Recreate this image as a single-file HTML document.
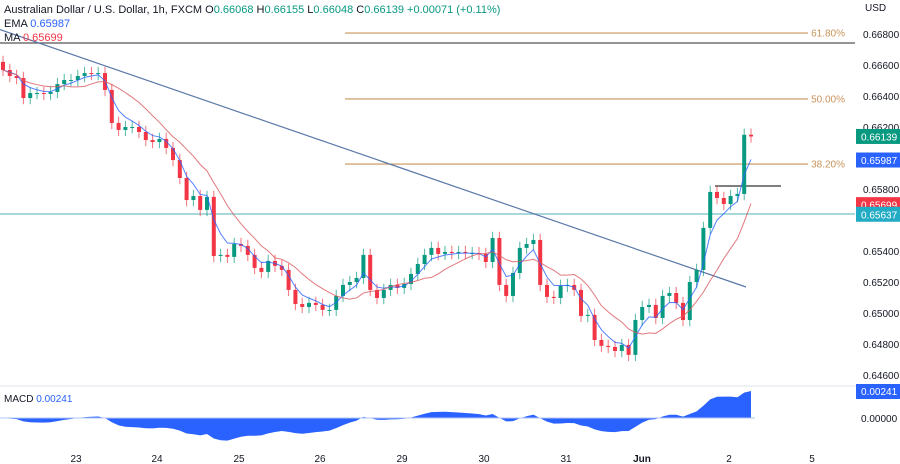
<!DOCTYPE html>
<html><head><meta charset="utf-8">
<style>
body{margin:0;background:#fff;width:900px;height:464px;overflow:hidden;font-family:"Liberation Sans",sans-serif;}
svg{display:block}
</style></head>
<body>
<svg id="chart" width="900" height="464" xmlns="http://www.w3.org/2000/svg">
  <g id="fib"></g>
  <line x1="0" y1="43" x2="855" y2="43" stroke="#555" stroke-width="1.2"/>
  <line x1="0" y1="214" x2="855" y2="214" stroke="#8ccbd0" stroke-width="1.5"/>
  <line x1="715" y1="186" x2="781" y2="186" stroke="#333" stroke-width="1.2"/>
  <line x1="0" y1="29.6" x2="746" y2="287" stroke="#5a78a8" stroke-width="1.2"/>
  <g id="candles"></g>
  <g id="ma"></g>
  <g id="axis"></g>
  <g id="macd"></g>
  <g id="xaxis"></g>
  <g font-size="11">
    <text x="4" y="13" fill="#131722">Australian Dollar / U.S. Dollar, 1h, FXCM <tspan fill="#131722">O</tspan><tspan fill="#089981">0.66068</tspan> <tspan fill="#131722">H</tspan><tspan fill="#089981">0.66155</tspan> <tspan fill="#131722">L</tspan><tspan fill="#089981">0.66048</tspan> <tspan fill="#131722">C</tspan><tspan fill="#089981">0.66139</tspan> <tspan fill="#089981">+0.00071 (+0.11%)</tspan></text>
    <text x="4" y="27" fill="#131722">EMA <tspan fill="#2962ff">0.65987</tspan></text>
    <text x="4" y="41" fill="#131722">MA <tspan fill="#f23645">0.65699</tspan></text>
  </g>
  <text x="865" y="11" font-size="10" fill="#131722">USD</text>
</svg>
<script>
const closes=[0.66568,0.66529,0.66516,0.66387,0.66419,0.66419,0.66413,0.66426,0.66477,0.66503,
0.66503,0.66529,0.66548,0.66542,0.66548,0.66439,0.66226,0.66181,0.66200,0.66200,
0.66168,0.66116,0.66103,0.66123,0.66065,0.65987,0.65871,0.65729,0.65755,0.65665,
0.65749,0.65368,0.65375,0.65362,0.65445,0.65433,0.65375,0.65291,0.65265,0.65336,
0.65304,0.65278,0.65149,0.65058,0.65039,0.65065,0.65052,0.65020,0.65020,0.65110,
0.65181,0.65200,0.65226,0.65375,0.65149,0.65097,0.65149,0.65181,0.65162,0.65187,
0.65252,0.65316,0.65375,0.65420,0.65381,0.65394,0.65387,0.65394,0.65387,0.65387,
0.65381,0.65329,0.65484,0.65181,0.65110,0.65258,0.65420,0.65445,0.65471,0.65181,
0.65104,0.65097,0.65175,0.65181,0.65149,0.64981,0.64988,0.64826,0.64788,0.64781,
0.64755,0.64794,0.64730,0.64955,0.65039,0.65052,0.64968,0.65110,0.65129,0.65065,
0.64955,0.65200,0.65278,0.65549,0.65781,0.65742,0.65703,0.65755,0.65768,0.66150,
0.66139];
const opens=[0.66620];
const fibLevels=[0.66806,0.66381,0.65961];
const fibLabels=["61.80%","50.00%","38.20%"];
const axisTicks=[0.668,0.666,0.664,0.662,0.658,0.654,0.652,0.650,0.648,0.646];
const dateLabels=["23","24","25","26","29","30","31","Jun","2","5"];
const datePos=[76,157,239,320,402,484,566,642,729,812];
const tags=[["0.66139",0.66139,"#089981"],["0.65987",0.65987,"#2962ff"],["0.65699",0.65699,"#f23645"],["0.65637",0.65637,"#22abc4"]];

const NS="http://www.w3.org/2000/svg";
function el(tag,attrs,parent){const e=document.createElementNS(NS,tag);for(const k in attrs)e.setAttribute(k,attrs[k]);parent.appendChild(e);return e;}
const y=p=>34+(0.668-p)*15500;
const x=i=>3+i*6.8;
for(let i=1;i<closes.length;i++)opens.push(closes[i-1]);

const fib=document.getElementById('fib');
fibLevels.forEach((p,i)=>{
  const l=el('line',{x1:345,x2:808,y1:y(p),y2:y(p),stroke:'#c8935a','stroke-width':1.1},fib);
  
  
  const t=el('text',{x:845,y:y(p)+3.5,'text-anchor':'end','font-size':10,fill:'#c8935a'},fib);
  t.textContent=fibLabels[i];
  
  
});

const cg=document.getElementById('candles');
closes.forEach((c,i)=>{
  const o=opens[i];const up=c>=o;const col=up?'#089981':'#f23645';
  const hi=Math.max(o,c)+0.0004, lo=Math.min(o,c)-0.0004;
  const w=el('line',{x1:x(i),x2:x(i),y1:y(hi),y2:y(lo),stroke:col,'stroke-width':1,opacity:0.7},cg);
  
  
  const top=y(Math.max(o,c)),h=Math.max(1,Math.abs(y(o)-y(c)));
  const b=el('rect',{x:x(i)-2,y:top,width:4,height:h,fill:col},cg);
  
  
});

const ema=[];const k=2/(4+1);
closes.forEach((c,i)=>ema.push(i?c*k+ema[i-1]*(1-k):c));
const sma=closes.map((c,i)=>{const s=closes.slice(Math.max(0,i-9),i+1);return s.reduce((a,b)=>a+b,0)/s.length;});
const mg=document.getElementById('ma');
const e1=el('polyline',{points:ema.map((v,i)=>x(i)+','+y(v)).join(' '),fill:'none',stroke:'#2962ff','stroke-width':1,opacity:0.8},mg);


const e2=el('polyline',{points:sma.map((v,i)=>x(i)+','+y(v)).join(' '),fill:'none',stroke:'#d9575c','stroke-width':1,opacity:0.8},mg);



const ag=document.getElementById('axis');
axisTicks.forEach(p=>{
  const t=el('text',{x:863,y:y(p)+4,'font-size':10,fill:'#131722'},ag);
  t.textContent=p.toFixed(5);
  
  
});
tags.forEach(tg=>{
  const r=el('rect',{x:856,y:y(tg[1])-7.5,width:44,height:15,fill:tg[2]},ag);
  
  
  const t=el('text',{x:861,y:y(tg[1])+4,'font-size':10,fill:'#fff'},ag);
  t.textContent=tg[0];
  
  
});

const mc=document.getElementById('macd');
const sep=el('line',{x1:0,x2:900,y1:386,y2:386,stroke:'#e0e3eb','stroke-width':1},mc);


const ef=[],es=[];const kf=2/7,ks=2/14;
closes.forEach((c,i)=>{ef.push(i?c*kf+ef[i-1]*(1-kf):c);es.push(i?c*ks+es[i-1]*(1-ks):c);});
const macd=ef.map((v,i)=>v-es[i]);
const last=macd[macd.length-1];
const sc=27/last;const ym=v=>418-v*sc;
let pts='0,418 '+macd.map((v,i)=>x(i)+','+ym(v)).join(' ')+' '+x(macd.length-1)+',418';
const ar=el('polygon',{points:pts,fill:'#2962ff'},mc);


const zl=el('line',{x1:0,x2:755,y1:418,y2:418,stroke:'#b2c6f7','stroke-width':1},mc);


const ml=el('text',{x:4,y:402,'font-size':10,fill:'#131722'},mc);
ml.innerHTML='MACD <tspan fill="#2962ff">0.00241</tspan>';


const mt=el('rect',{x:856,y:384,width:44,height:15,fill:'#2962ff'},mc);


const mtt=el('text',{x:861,y:395,'font-size':10,fill:'#fff'},mc);
mtt.textContent='0.00241';


const z0=el('text',{x:861,y:422,'font-size':10,fill:'#131722'},mc);
z0.textContent='0.00000';



const xg=document.getElementById('xaxis');
dateLabels.forEach((d,i)=>{
  const t=el('text',{x:datePos[i],y:462,'font-size':10,'text-anchor':'middle',fill:'#131722','font-weight':d==='Jun'?'bold':'normal'},xg);
  t.textContent=d;
  
  
});
</script>
</body></html>
